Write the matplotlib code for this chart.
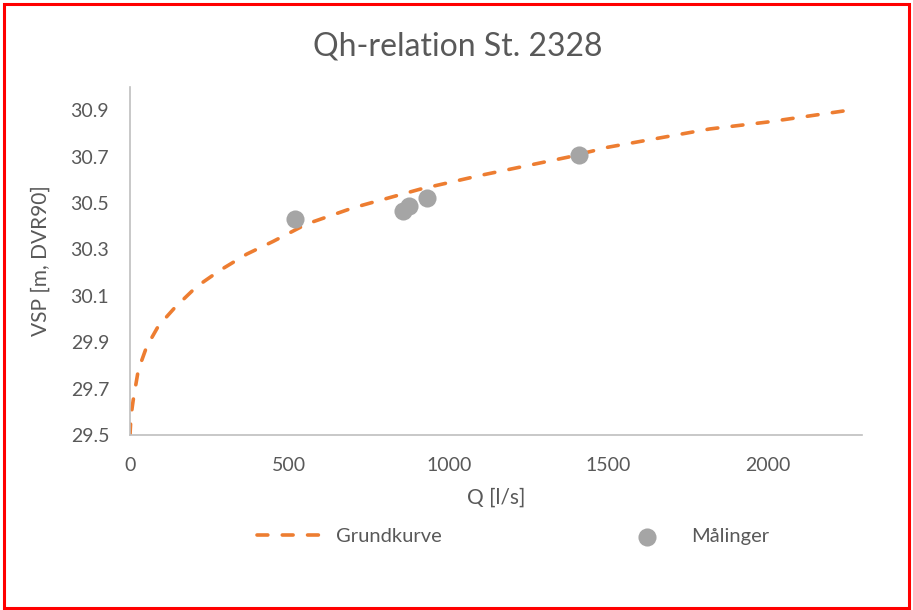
import matplotlib
matplotlib.use('Agg')
import matplotlib.pyplot as plt
from matplotlib.patches import Rectangle

plt.rcParams['font.family'] = ['Lato', 'DejaVu Sans']

# Grundkurve
q_curve = [0, 3, 10, 26, 52, 89, 141, 209, 282, 366, 449, 554, 700, 909,
           1100, 1379, 1494, 1818, 2000, 2250]
h_curve = [29.50, 29.58, 29.65, 29.78, 29.88, 29.97, 30.05, 30.14, 30.21, 30.28,
           30.335, 30.41, 30.48, 30.56, 30.62, 30.70, 30.74, 30.82, 30.85, 30.90]

# Målinger
q_meas = [517, 855, 876, 930, 1409]
h_meas = [30.43, 30.465, 30.487, 30.52, 30.706]

x_ticks = [0, 500, 1000, 1500, 2000]
y_ticks = [29.5, 29.7, 29.9, 30.1, 30.3, 30.5, 30.7, 30.9]

txt = '#595959'
fig = plt.figure(figsize=(9.13, 6.10), dpi=100)
ax = fig.add_axes([0.1424, 0.287, 0.8016, 0.570])

ax.plot(q_curve, h_curve, color='#ED7D31', lw=2.6, dashes=(3, 4),
        dash_capstyle='round', label='Grundkurve', zorder=2)
ax.scatter(q_meas, h_meas, s=170, color='#A5A5A5', label='Målinger', zorder=3,
           linewidths=0)

ax.set_xlim(0, 2295)
ax.set_ylim(29.5, 31.0)
ax.set_xticks(x_ticks)
ax.set_yticks(y_ticks)
ax.set_yticklabels([f'{v:.1f}' for v in y_ticks])
ax.tick_params(length=0, colors=txt, labelsize=14)
ax.tick_params(axis='y', pad=15)
ax.tick_params(axis='x', pad=16)
for s in ['top', 'right']:
    ax.spines[s].set_visible(False)
for s in ['left', 'bottom']:
    ax.spines[s].set_color('#BFBFBF')
    ax.spines[s].set_linewidth(1.2)

ax.set_xlabel('Q [l/s]', color=txt, fontsize=15, labelpad=10)
ax.set_ylabel('VSP [m, DVR90]', color=txt, fontsize=15, labelpad=14)
fig.text(0.5015, 0.923, 'Qh-relation St. 2328', color=txt, fontsize=23,
         ha='center', va='center')

fig.legend(loc='center', bbox_to_anchor=(0.562, 0.12), ncol=2, frameon=False,
           fontsize=14.5, labelcolor=txt, handlelength=3.4, columnspacing=8.5,
           handletextpad=0.5)

fig.patches.append(Rectangle((0.004, 0.004), 0.992, 0.99, transform=fig.transFigure,
                             fill=False, edgecolor='#FF0000', lw=2.2))

fig.savefig('out.png', dpi=100)
